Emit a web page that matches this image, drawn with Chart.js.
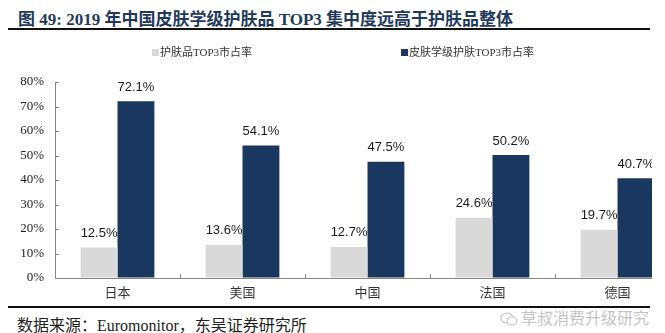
<!DOCTYPE html>
<html>
<head>
<meta charset="utf-8">
<script src="https://cdn.jsdelivr.net/npm/chart.js@4"></script>
<style>
  html, body { margin: 0; padding: 0; background: #fff; }
  #page { position: relative; width: 665px; height: 333px; overflow: hidden; }
  #titulo {
    position: absolute; left: 18px; top: 5px;
    font: bold 17px "Liberation Serif", "Noto Sans CJK SC", serif;
    color: #1f3a5c; white-space: nowrap;
  }
  .linea { position: absolute; left: 8px; width: 642px; height: 2px; background: #111; }
  #zona { position: absolute; left: 0; top: 0; width: 652px; height: 305px; overflow: hidden; }
  #zona canvas { position: absolute; left: 0; top: 0; }
  #leyenda span.item {
    position: absolute; top: 43px; white-space: nowrap;
    font: 11px "Liberation Serif", "Noto Sans CJK SC", serif; color: #333;
  }
  #leyenda span.caja { display: inline-block; width: 7px; height: 7px; margin-right: 1px; vertical-align: 0px; }
  #fuente {
    position: absolute; left: 17px; top: 312px; white-space: nowrap;
    font: 16px "Liberation Serif", "Noto Sans CJK SC", serif; color: #222;
  }
  #marca {
    position: absolute; left: 500px; top: 305px; white-space: nowrap;
    font: 16px "Noto Sans CJK SC", sans-serif; color: #c4c4c4;
    text-shadow: 0 0 2px #fff, 0 0 2px #fff;
  }
  #marca svg { vertical-align: -3px; margin-right: 3px; }
</style>
</head>
<body>
<div id="page">
  <div id="titulo">图 49: 2019 年中国皮肤学级护肤品 TOP3 集中度远高于护肤品整体</div>
  <div class="linea" style="top:28px"></div>
  <div id="zona">
    <canvas id="grafico" width="690" height="305" style="width:690px;height:305px"></canvas>
  </div>
  <div id="leyenda"></div>
  <div class="linea" style="top:306px"></div>
  <div id="fuente">数据来源：Euromonitor，东吴证券研究所</div>
  <div id="marca"><svg width="18" height="16" viewBox="0 0 18 16"><ellipse cx="7" cy="7" rx="6" ry="5" fill="none" stroke="#c4c4c4" stroke-width="1.2"/><ellipse cx="12" cy="10" rx="5" ry="4" fill="#fff" stroke="#c4c4c4" stroke-width="1.2"/></svg>草叔消费升级研究</div>
</div>
<script>
const paises = ['日本', '美国', '中国', '法国', '德国'];
const top3Total = [12.5, 13.6, 12.7, 24.6, 19.7];        // 护肤品TOP3市占率
const top3Dermo = [72.1, 54.1, 47.5, 50.2, 40.7];        // 皮肤学级护肤TOP3市占率
const etiquetasSeries = ['护肤品TOP3市占率', '皮肤学级护肤TOP3市占率'];
const ticksY = [0, 10, 20, 30, 40, 50, 60, 70, 80];

const colores = ['#d9d9d9', '#1a3760'];
const colorEje = '#868686';

// leyenda en HTML, a partir de las series
const posLeyenda = [152, 401];
const leyenda = document.getElementById('leyenda');
etiquetasSeries.forEach((txt, i) => {
    const item = document.createElement('span');
    item.className = 'item';
    item.style.left = posLeyenda[i] + 'px';
    item.innerHTML = '<span class="caja" style="background:' + colores[i] + '"></span>' + txt;
    leyenda.appendChild(item);
});

// valores encima de cada barra
const etiquetasValor = {
    id: 'etiquetasValor',
    afterDatasetsDraw(chart) {
        const ctx = chart.ctx;
        ctx.save();
        ctx.font = '13px "Liberation Sans", Arial, sans-serif';
        ctx.fillStyle = '#1a1a1a';
        ctx.textAlign = 'center';
        ctx.textBaseline = 'middle';
        chart.data.datasets.forEach((ds, i) => {
            chart.getDatasetMeta(i).data.forEach((bar, j) => {
                ctx.fillText(ds.data[j].toFixed(1) + '%', bar.x, bar.y - 14);
            });
        });
        ctx.restore();
    }
};

// marcas de graduación hacia dentro en ambos ejes
const marcasInternas = {
    id: 'marcasInternas',
    afterDraw(chart) {
        const ctx = chart.ctx;
        const x = chart.scales.x, y = chart.scales.y;
        const area = chart.chartArea;
        ctx.save();
        ctx.strokeStyle = colorEje;
        ctx.lineWidth = 1;
        ctx.beginPath();
        ticksY.forEach(v => {
            const py = Math.round(y.getPixelForValue(v)) + 0.5;
            ctx.moveTo(area.left, py);
            ctx.lineTo(area.left + 4, py);
        });
        for (let i = 1; i < paises.length; i++) {
            const px = Math.round((x.getPixelForTick(i - 1) + x.getPixelForTick(i)) / 2) + 0.5;
            ctx.moveTo(px, area.bottom);
            ctx.lineTo(px, area.bottom - 4);
        }
        ctx.stroke();
        ctx.restore();
    }
};

new Chart(document.getElementById('grafico'), {
    type: 'bar',
    data: {
        labels: paises,
        datasets: [
            { label: etiquetasSeries[0], data: top3Total, backgroundColor: colores[0] },
            { label: etiquetasSeries[1], data: top3Dermo, backgroundColor: colores[1] }
        ]
    },
    options: {
        responsive: false,
        animation: false,
        devicePixelRatio: 1,
        layout: { padding: { top: 82, right: 10, bottom: 0, left: 0 } },
        datasets: { bar: { categoryPercentage: 0.59, barPercentage: 1.0 } },
        plugins: {
            legend: { display: false },
            tooltip: { enabled: false }
        },
        scales: {
            x: {
                grid: { display: true, drawOnChartArea: false, drawTicks: false },
                border: { display: true, color: colorEje },
                ticks: {
                    padding: 8,
                    color: '#333',
                    font: { family: '"Liberation Serif", "Noto Sans CJK SC", serif', size: 13 }
                },
                afterFit(scale) { scale.height = 27; }
            },
            y: {
                min: 0,
                max: 80,
                grid: { display: true, drawOnChartArea: false, drawTicks: false },
                border: { display: true, color: colorEje },
                afterBuildTicks(scale) { scale.ticks = ticksY.map(v => ({ value: v })); },
                ticks: {
                    padding: 11,
                    color: '#222',
                    font: { family: '"Liberation Serif", serif', size: 13 },
                    callback: v => v + '%'
                },
                afterFit(scale) { scale.width = 55; }
            }
        }
    },
    plugins: [etiquetasValor, marcasInternas]
});
</script>
</body>
</html>
